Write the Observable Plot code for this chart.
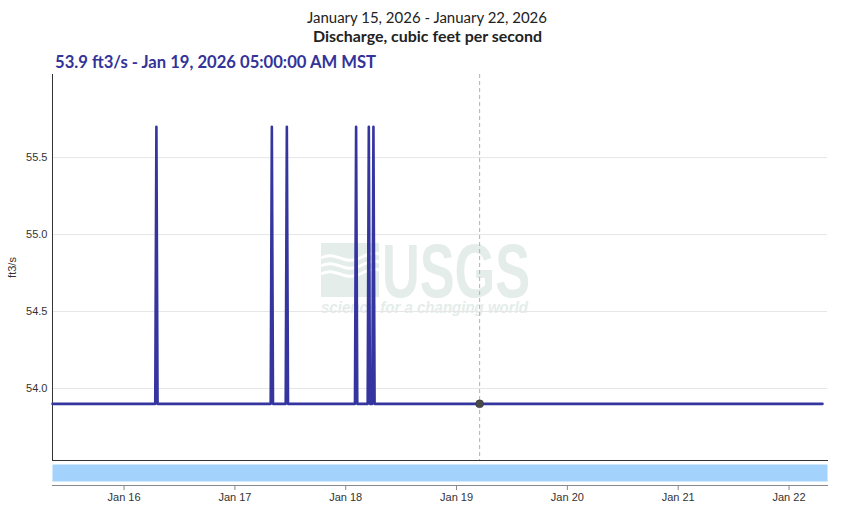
<!DOCTYPE html>
<html><head><meta charset="utf-8">
<script src="https://cdn.jsdelivr.net/npm/d3@7"></script>
<script src="https://cdn.jsdelivr.net/npm/@observablehq/plot@0.6"></script>
<style>
html,body{margin:0;padding:0;background:#fff;}
#wrap{position:relative;width:846px;height:513px;overflow:hidden;font-family:"Liberation Sans",Arial,sans-serif;}
#wrap > svg{position:absolute;left:0;}
</style></head><body><div id="wrap"></div>
<script>
// ---- text ----
const titleText = "January 15, 2026 - January 22, 2026";
const subtitleText = "Discharge, cubic feet per second";
const readingLabel = "53.9 ft3/s - Jan 19, 2026 05:00:00 AM MST";
const yLabel = "ft3/s";
const watermarkText = "USGS";
const watermarkTagline = "science for a changing world";

// ---- data (15-minute discharge, MST wall-clock stored as UTC) ----
const times = [
  "2026-01-15T08:30Z",
  "2026-01-16T06:45Z", "2026-01-16T07:00Z", "2026-01-16T07:15Z",
  "2026-01-17T07:45Z", "2026-01-17T08:00Z", "2026-01-17T08:15Z",
  "2026-01-17T11:00Z", "2026-01-17T11:15Z", "2026-01-17T11:30Z",
  "2026-01-18T02:00Z", "2026-01-18T02:15Z", "2026-01-18T02:30Z",
  "2026-01-18T04:45Z", "2026-01-18T05:00Z", "2026-01-18T05:15Z",
  "2026-01-18T05:45Z", "2026-01-18T06:00Z", "2026-01-18T06:15Z",
  "2026-01-22T07:15Z"
];
const values = [
  53.9,
  53.9, 55.7, 53.9,
  53.9, 55.7, 53.9,
  53.9, 55.7, 53.9,
  53.9, 55.7, 53.9,
  53.9, 55.7, 53.9,
  53.9, 55.7, 53.9,
  53.9
];
const readingTime = "2026-01-19T05:00Z";
const readingValue = 53.9;

// ---- scales / ticks ----
const xDomain = ["2026-01-15T08:30Z", "2026-01-22T08:20Z"];
const yDomain = [53.532, 56.04];
const yTicks = [54.0, 54.5, 55.0, 55.5];
const xTicks = ["2026-01-16", "2026-01-17", "2026-01-18", "2026-01-19", "2026-01-20", "2026-01-21", "2026-01-22"];

const series = times.map((t, i) => ({time: new Date(t), value: values[i]}));
const reading = [{time: new Date(readingTime), value: readingValue}];
const xd = xDomain.map(d => new Date(d));
const font = '"Liberation Sans", Arial, sans-serif';

const wrap = document.getElementById("wrap");

// decorative layer: titles, current-reading label, watermark
const NS = "http://www.w3.org/2000/svg";
const deco = document.createElementNS(NS, "svg");
deco.setAttribute("width", 846); deco.setAttribute("height", 513);
deco.style.top = "0px";
deco.innerHTML = `
  <g fill="#e4edea">
    <rect x="321" y="243" width="58" height="54"/>
    <text x="382" y="297" font-family='"Liberation Sans Narrow","Liberation Sans",Arial' font-weight="bold" font-size="76" textLength="148" lengthAdjust="spacingAndGlyphs">${watermarkText}</text>
    <text x="321" y="313" font-family='"Liberation Sans",Arial' font-style="italic" font-weight="bold" font-size="16" textLength="207" lengthAdjust="spacingAndGlyphs">${watermarkTagline}</text>
  </g>
  <g fill="none" stroke="#fff" stroke-width="3">
    <path d="M321,258 C335,250 345,266 360,258 C368,254 374,252 379,254"/>
    <path d="M321,266 C335,258 345,274 360,266 C368,262 374,260 379,262"/>
    <path d="M321,274 C335,266 345,282 360,274 C368,270 374,268 379,270"/>
  </g>
  <text x="427" y="23.3" text-anchor="middle" font-family="Lato" font-size="15.5" fill="#222" textLength="240" lengthAdjust="spacingAndGlyphs">${titleText}</text>
  <text x="427.5" y="42" text-anchor="middle" font-family="Lato" font-weight="bold" font-size="15" fill="#222" textLength="229" lengthAdjust="spacingAndGlyphs">${subtitleText}</text>
  <text x="55" y="68.3" font-family="Lato" font-weight="bold" font-size="16.5" fill="#333399" textLength="321" lengthAdjust="spacingAndGlyphs">${readingLabel}</text>
`;
wrap.appendChild(deco);

// main plot
const p1 = Plot.plot({
  width: 846, height: 393,
  marginTop: 5, marginBottom: 2, marginLeft: 52, marginRight: 19,
  style: {fontFamily: font, fontSize: "11px", color: "#333", background: "transparent", overflow: "visible"},
  x: {type: "utc", domain: xd, axis: null},
  y: {domain: yDomain},
  marks: [
    Plot.gridY(yTicks, {stroke: "#e6e6e6", strokeOpacity: 1}),
    Plot.axisY(yTicks, {tickSize: 0, tickPadding: 5, tickFormat: d3.format(".1f"), fill: "#333",
      label: yLabel, labelAnchor: "center", labelArrow: "none", labelOffset: 44}),
    Plot.frame({anchor: "left", stroke: "#333"}),
    Plot.frame({anchor: "bottom", stroke: "#333"}),
    Plot.ruleX(reading, {x: "time", stroke: "#b0b0b0", strokeDasharray: "4,3"}),
    Plot.line(series, {x: "time", y: "value", stroke: "#3535a0", strokeWidth: 2.6}),
    Plot.dot(reading, {x: "time", y: "value", r: 4, fill: "#4a4a4a", stroke: "#333", strokeWidth: 0.5})
  ]
});
p1.style.position = "absolute"; p1.style.top = "69px"; p1.style.left = "0px";
wrap.appendChild(p1);

// navigator strip + time axis
const p2 = Plot.plot({
  width: 846, height: 50,
  marginTop: 4, marginBottom: 25, marginLeft: 52, marginRight: 19,
  style: {fontFamily: font, fontSize: "11px", color: "#333", background: "transparent", overflow: "visible"},
  x: {type: "utc", domain: xd},
  marks: [
    Plot.frame({fill: "#a3d3fc", stroke: "none", insetBottom: 4}),
    Plot.frame({anchor: "bottom", stroke: "#888"}),
    Plot.axisX(xTicks.map(d => new Date(d)), {tickSize: 5, tickPadding: 3, stroke: "#888", fill: "#333",
      tickFormat: d3.utcFormat("%b %-d"), label: null})
  ]
});
p2.style.position = "absolute"; p2.style.top = "460px"; p2.style.left = "0px";
wrap.appendChild(p2);
</script>
</body></html>
